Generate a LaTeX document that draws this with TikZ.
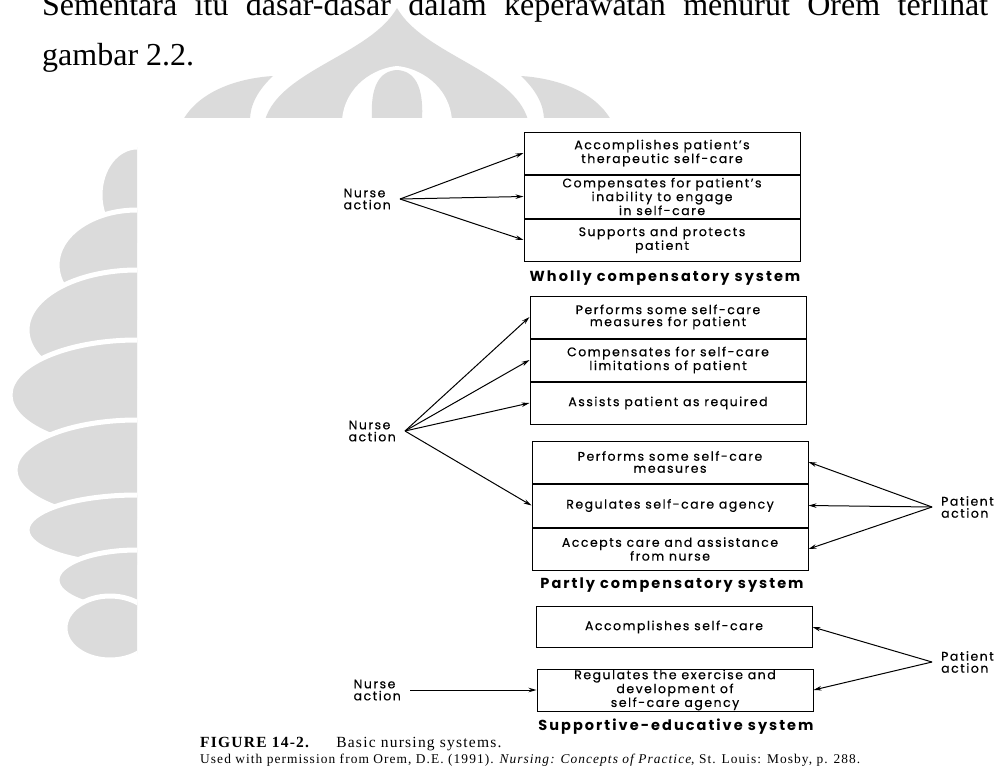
\documentclass[tikz,border=0pt]{standalone}
\usepackage{fontspec}
\setmainfont{Liberation Serif}
\newfontfamily\futura[LetterSpace=12, FakeBold=0.5]{Poppins}
\newfontfamily\futurab[LetterSpace=14]{Poppins}
\newfontfamily\capfont[LetterSpace=8]{Liberation Serif}
\usetikzlibrary{arrows.meta, positioning}
\definecolor{wmgray}{gray}{0.86}
\tikzset{
  cell/.style={draw, line width=1pt, minimum width=276pt, minimum height=42pt, inner sep=0pt, align=center, font=\futura\fontsize{12.5}{12}\selectfont},
  sysname/.style={font=\futurab\bfseries\fontsize{14.5}{15}\selectfont, inner sep=0pt},
  actor/.style={align=left, inner xsep=9pt, inner ysep=1pt, font=\futura\fontsize{12.5}{12}\selectfont},
  act/.style={line width=1pt, -{Stealth[length=8pt,width=4.5pt]}},
  lobe/.style={fill=wmgray, draw=white, line width=5pt}
}

\begin{document}
\begin{tikzpicture}[x=1pt,y=-1pt]
    \useasboundingbox (0,0) rectangle (1003,771);
    \clip (0,0) rectangle (1003,771);

    % watermark, left lobes
    \begin{scope}
      \clip (0,140) rectangle (137,771);
      \foreach \cy/\rx/\ry in {195/37/48, 265/80/55, 330/110/60, 395/127/55, 470/122/50, 530/110/35, 580/80/30}
        \filldraw[lobe] (137,\cy) ellipse [x radius=\rx pt, y radius=\ry pt];
      \filldraw[lobe] (110,628) ellipse [x radius=45pt, y radius=32pt];
    \end{scope}
    % watermark, top domes
    \begin{scope}
      \clip (150,-5) rectangle (650,117);
      \fill[wmgray] (183,120) .. controls (200,90) and (240,78) .. (273,76) .. controls (258,90) and (250,105) .. (250,120) -- cycle;
      \fill[wmgray] (611,120) .. controls (594,90) and (554,78) .. (521,76) .. controls (536,90) and (544,105) .. (544,120) -- cycle;
      \fill[wmgray] (265,120) .. controls (280,70) and (370,55) .. (397,8) .. controls (424,55) and (514,70) .. (528,120) -- cycle;
      \fill[white] (342,120) .. controls (345,85) and (375,68) .. (397,66) .. controls (419,68) and (449,85) .. (452,120) -- cycle;
      \fill[wmgray] (372,120) .. controls (370,85) and (380,71) .. (397,70) .. controls (414,71) and (424,85) .. (422,120) -- cycle;
    \end{scope}

    % running text of the page
    \node[anchor=base west, inner sep=0pt, font=\fontsize{32}{38}\selectfont] (txa) at (42,16) {\hbox to 946pt{Sementara\hfill itu\hfill dasar-dasar\hfill dalam\hfill keperawatan\hfill menurut\hfill Orem\hfill terlihat}};
    \node[anchor=base west, inner sep=0pt, font=\fontsize{32}{38}\selectfont] (txb) at (42,65) {gambar 2.2.};

    % Wholly compensatory system
    \node[cell] (w1) at (662,153) {Accomplishes patient’s\\therapeutic self-care};
    \node[cell, below=0pt of w1, minimum height=43pt] (w2) {Compensates for patient’s\\inability to engage\\in self-care};
    \node[cell, below=0pt of w2] (w3) {Supports and protects\\patient};
    \node[sysname] (wname) at (665,278) {Wholly compensatory system};
    \node[actor, anchor=east] (nw) at (400,199) {Nurse\\action};
    \foreach \b in {w1,w2,w3}
      \draw[act] (nw.east) -- (\b.west);

    % Partly compensatory system
    \node[cell] (p1) at (668,317) {Performs some self-care\\measures for patient};
    \node[cell, below=0pt of p1] (p2) {Compensates for self-care\\limitations of patient};
    \node[cell, below=0pt of p2] (p3) {Assists patient as required};
    \node[cell] (q1) at (670,462) {Performs some self-care\\measures};
    \node[cell, below=0pt of q1, minimum height=43pt] (q2) {Regulates self-care agency};
    \node[cell, below=0pt of q2] (q3) {Accepts care and assistance\\from nurse};
    \node[sysname] (pname) at (672,585) {Partly compensatory system};
    \node[actor, anchor=east] (np) at (405,431) {Nurse\\action};
    \node[actor, anchor=west] (pq) at (932,507) {Patient\\action};
    \foreach \b in {p1,p2,p3,q2}
      \draw[act] (np.east) -- (\b.west);
    \foreach \b in {q1,q2,q3}
      \draw[act] (pq.west) -- (\b.east);

    % Supportive-educative system
    \node[cell, minimum height=41pt] (s1) at (674,627) {Accomplishes self-care};
    \node[cell] (s2) at (675,690) {Regulates the exercise and\\development of\\self-care agency};
    \node[sysname] (sname) at (676,727) {Supportive-educative system};
    \node[actor, anchor=east] (ns) at (410,690) {Nurse\\action};
    \node[actor, anchor=west] (ps) at (932,662) {Patient\\action};
    \draw[act] (ns.east) -- (s2.west);
    \foreach \b in {s1,s2}
      \draw[act] (ps.west) -- (\b.east);

    % caption
    \node[anchor=base west, inner sep=0pt, font=\capfont\fontsize{15.5}{16}\selectfont] (figcap) at (200,747) {\textbf{FIGURE 14-2.}\hspace{26pt}Basic nursing systems.};
    \node[anchor=base west, inner sep=0pt, font=\capfont\fontsize{13.4}{15}\selectfont] (figsrc) at (200,763) {Used with permission from Orem, D.E. (1991). \textit{Nursing: Concepts of Practice}, St. Louis: Mosby, p. 288.};
\end{tikzpicture}
\end{document}
